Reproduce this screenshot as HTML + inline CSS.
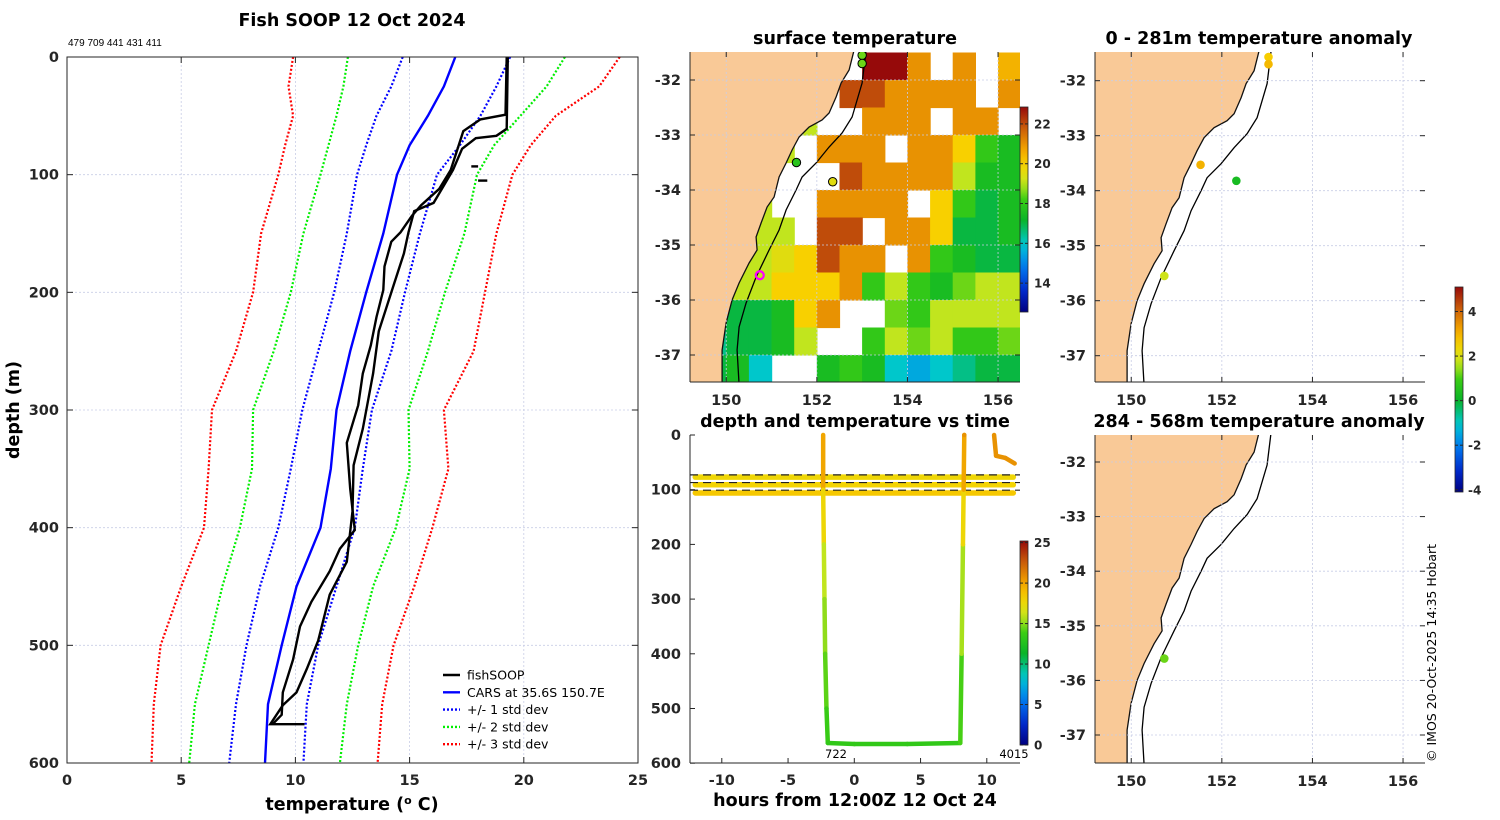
<!DOCTYPE html>
<html><head><meta charset="utf-8"><style>
body{margin:0;background:#fff;}
svg{display:block;font-family:"DejaVu Sans","Liberation Sans",sans-serif;}
.tk{font-size:14.5px;font-weight:bold;fill:#262626;}
.tt{font-size:17.5px;font-weight:bold;fill:#000;}
</style></head><body>
<svg id="fig" width="1500" height="820" viewBox="0 0 1500 820" xmlns="http://www.w3.org/2000/svg"></svg>
<script>
// ---- profile chart data ----
const depths = [0,25,50,75,100,150,200,250,300,350,400,450,500,550,600];
const carsMean = [17.0,16.5,15.8,15.0,14.45,13.85,13.1,12.4,11.8,11.55,11.1,10.05,9.4,8.8,8.67];
const sd1Lo = [14.7,14.2,13.55,13.1,12.7,12.25,11.7,11.0,10.3,9.8,9.25,8.45,7.86,7.4,7.1];
const sd1Hi = [19.4,18.8,18.1,17.2,16.2,15.45,14.8,14.2,13.35,12.95,12.6,11.8,11.0,10.5,10.35];
const sd2Lo = [12.3,12.1,11.8,11.45,11.1,10.35,9.8,9.05,8.15,8.1,7.57,6.8,6.2,5.6,5.35];
const sd2Hi = [21.8,21.0,19.85,18.7,17.95,17.4,16.55,15.8,14.95,15.0,14.4,13.4,12.75,12.25,11.95];
const sd3Lo = [9.9,9.7,9.9,9.55,9.25,8.5,8.15,7.4,6.35,6.2,6.0,5.0,4.1,3.8,3.7];
const sd3Hi = [24.2,23.3,21.4,20.3,19.5,18.8,18.3,17.8,16.5,16.7,16.0,15.2,14.3,13.8,13.6];
const castADepth = [0,49,53,63,78,96,112,126,135,149,157,178,198,221,245,269,296,328,367,402,418,437,463,484,512,540,559,567];
const castATemp = [19.25,19.2,18.1,17.35,17.1,16.8,16.3,15.5,15.1,14.6,14.2,13.9,13.85,13.55,13.3,12.95,12.75,12.25,12.4,12.6,11.95,11.5,10.7,10.2,9.9,9.45,9.4,9.0];
const castBDepth = [0,61,67,69,78,96,124,131,149,167,194,233,269,316,347,386,429,457,496,520,540,551,567,567];
const castBTemp = [19.3,19.25,18.8,17.9,17.3,16.9,16.05,15.2,14.95,14.75,14.3,13.65,13.4,12.95,12.55,12.5,12.25,11.5,11.0,10.5,10.05,9.45,8.9,10.4];
const xTicks = [0,5,10,15,20,25];
const yTicks = [0,100,200,300,400,500,600];
// ---- SST grid data (0.5 deg cells; rows from -31.5 south, cols from 149.0 east) ----
const N = null;
const sstGrid = [
 [19,19,19,19,19,19,19,N,23,23,21,N,21,N,20.5],
 [19,19,19,19,19,19,N,22,22,21,21,21,21,N,21],
 [19,19,19,19,19,19,N,N,21,21,21,N,21,21,N],
 [19,19,19,19,19,N,21,21,21,N,21,21,20,18,17.5],
 [19,19,19,19,N,N,N,22,21,21,21,21,19,17.5,17.5],
 [19,19,19,19,N,N,21,21,21,21,N,20,18,17,17.5],
 [19,19,19,19,19,N,22,22,N,21,21,20,17,17,17.5],
 [19,19,19,19,19.5,20,22,21,21,N,21,18,17.5,17,17],
 [19,19,19,19,20,20,20,21,18,19,18,17.5,18.5,19,19],
 [17,17,17,17,17.5,20,21,N,N,18.5,18,19,19,19,19],
 [16,16.5,17,17,17.5,19,N,N,18,19,18.5,19,18,18,18.5],
 [15,17,17.5,16,N,N,17.5,18,17.5,16,15.5,16,16.5,17,17]
];
// ---- anomaly dots ----
const anomLon1 = [153.03,153.03,151.53,152.32,150.73];
const anomLat1 = [-31.57,-31.70,-33.53,-33.82,-35.55];
const anomVal1 = [2.6,2.9,3.0,0.3,1.8];
const anomLon2 = [150.73];
const anomLat2 = [-35.6];
const anomVal2 = [1.2];
const sstDotLon = [153.0,153.0,151.55,152.35];
const sstDotLat = [-31.55,-31.7,-33.5,-33.85];
const sstDotVal = [18.5,18.5,17.8,19.5];
// ---- depth-time track ----
const trackT = [-2.35,-2.35,-2.3,-2.25,-2.2,-2.1,-2.0,0,4,8.0,8.1,8.2,8.25,8.3,8.3];
const trackD = [0,100,200,300,400,500,563,565,565,563,400,200,100,0,0];
const trackTemp = [20.5,19,16,15.3,14.6,13.8,13.2,13.2,13.2,13.2,14.6,16,19,20.5,20.5];
const tail2T = [10.55,10.7,11.4,12.1];
const tail2D = [0,38,42,52];
const bandDepths = [77,91,106];
const bandTemps = [17.6,17.8,18.4];
const dashDepths = [72,86,100];

const svg = document.getElementById('fig');
const NS = 'http://www.w3.org/2000/svg';
function el(tag, attrs, parent, text){
  const e = document.createElementNS(NS, tag);
  for (const k in attrs) e.setAttribute(k, attrs[k]);
  if (text !== undefined) e.textContent = text;
  (parent || svg).appendChild(e);
  return e;
}
function cmap(v, lo, hi){
  const stops = [[0,[0,0,128]],[0.1,[0,40,200]],[0.22,[0,120,240]],[0.33,[0,200,210]],[0.45,[10,180,40]],[0.55,[60,205,20]],[0.63,[200,230,30]],[0.72,[248,210,0]],[0.8,[240,160,0]],[0.9,[200,90,10]],[1,[150,10,10]]];
  let t = Math.max(0, Math.min(1, (v-lo)/(hi-lo)));
  for (let i=1;i<stops.length;i++){
    if (t<=stops[i][0]){
      const a=stops[i-1], b=stops[i], f=(t-a[0])/(b[0]-a[0]);
      const c=a[1].map((x,j)=>Math.round(x+(b[1][j]-x)*f));
      return 'rgb('+c.join(',')+')';
    }
  }
  return 'rgb(150,10,10)';
}

// ================= Profile panel =================
const PX0=67, PX1=638, PY0=57, PY1=763;
const xS = t => PX0 + t/25*(PX1-PX0);
const yS = d => PY0 + d/600*(PY1-PY0);
const prof = el('g', {}, svg);


xTicks.forEach(t=>{
  const l = el('line',{x1:xS(t),x2:xS(t),y1:PY0,y2:PY1,stroke:'#c8cde6','stroke-width':0.8,'stroke-dasharray':'2,2'},prof);
  
  
  const tx = el('text',{x:xS(t),y:PY1+22,'text-anchor':'middle',class:'tk'},prof,String(t));
  
  
});
yTicks.forEach(d=>{
  const l = el('line',{x1:PX0,x2:PX1,y1:yS(d),y2:yS(d),stroke:'#c8cde6','stroke-width':0.8,'stroke-dasharray':'2,2'},prof);
  
  
  el('line',{x1:PX0,x2:PX0+6,y1:yS(d),y2:yS(d),stroke:'#262626'},prof);
  el('line',{x1:PX1,x2:PX1-6,y1:yS(d),y2:yS(d),stroke:'#262626'},prof);
  const tx = el('text',{x:PX0-8,y:yS(d)+5,'text-anchor':'end',class:'tk'},prof,String(d));
  
  
});
function lineOf(ts, ds, attrs, name){
  const p = ts.map((t,i)=>(i?'L':'M')+xS(t).toFixed(1)+','+yS(ds[i]).toFixed(1)).join('');
  const e = el('path', Object.assign({d:p,fill:'none'},attrs), prof);
  
  
}
const dotted = {'stroke-width':2.2,'stroke-dasharray':'2,2'};
lineOf(sd3Lo, depths, Object.assign({stroke:'#ff0000'},dotted), 'sd3-lower-line');
lineOf(sd3Hi, depths, Object.assign({stroke:'#ff0000'},dotted), 'sd3-upper-line');
lineOf(sd2Lo, depths, Object.assign({stroke:'#00ee00'},dotted), 'sd2-lower-line');
lineOf(sd2Hi, depths, Object.assign({stroke:'#00ee00'},dotted), 'sd2-upper-line');
lineOf(sd1Lo, depths, Object.assign({stroke:'#0000ff'},dotted), 'sd1-lower-line');
lineOf(sd1Hi, depths, Object.assign({stroke:'#0000ff'},dotted), 'sd1-upper-line');
lineOf(carsMean, depths, {stroke:'#0000ff','stroke-width':2.4}, 'cars-mean-line');
lineOf(castATemp, castADepth, {stroke:'#000','stroke-width':2.4}, 'fishsoop-cast-a');
lineOf(castBTemp, castBDepth, {stroke:'#000','stroke-width':2.4}, 'fishsoop-cast-b');
lineOf([17.7,18.0], [93,93], {stroke:'#000','stroke-width':2.4}, 'fishsoop-fragment-1');
lineOf([18.0,18.4], [105,105], {stroke:'#000','stroke-width':2.4}, 'fishsoop-fragment-2');
el('rect',{x:PX0,y:PY0,width:PX1-PX0,height:PY1-PY0,fill:'none',stroke:'#262626','stroke-width':1},prof);
xTicks.forEach(t=>{
  el('line',{x1:xS(t),x2:xS(t),y1:PY1,y2:PY1-6,stroke:'#262626'},prof);
  el('line',{x1:xS(t),x2:xS(t),y1:PY0,y2:PY0+6,stroke:'#262626'},prof);
});
</script>
<script>
// legend + titles for profile
(function(){
  const lg = el('g',{},svg);
  
  
  const items = [['fishSOOP','#000',''],['CARS at 35.6S 150.7E','#0000ff',''],['+/- 1 std dev','#0000ff','2,2'],['+/- 2 std dev','#00ee00','2,2'],['+/- 3 std dev','#ff0000','2,2']];
  items.forEach((it,i)=>{
    const y = 675 + i*17.3;
    const a = {x1:443,x2:460,y1:y,y2:y,stroke:it[1],'stroke-width':2.4};
    if (it[2]) a['stroke-dasharray']=it[2];
    el('line',a,lg);
    const t = el('text',{x:467,y:y+4.5,'font-size':'12.5px',fill:'#000'},lg,it[0]);
    
    
  });
  const t1 = el('text',{x:352,y:26,'text-anchor':'middle',class:'tt'},svg,'Fish SOOP 12 Oct 2024');
   
  const t2 = el('text',{x:68,y:46,'font-size':'10px','font-family':'"Liberation Sans",sans-serif'},svg,'479 709 441 431 411');
   
  const t3 = el('text',{x:352,y:810,'text-anchor':'middle',class:'tt'},svg,'');
   
  t3.innerHTML = 'temperature (<tspan dy="-6" font-size="11px">o</tspan><tspan dy="6"> C)</tspan>';
  const t4 = el('text',{x:19,y:410,'text-anchor':'middle',class:'tt',transform:'rotate(-90 19 410)'},svg,'depth (m)');
   
})();

// ================= Map panels =================
const coastPx = [[855,50],[850,70],[842,83],[837,97],[830,113],[823,120],[810,127],[800,137],[793,150],[787,163],[780,177],[775,197],[768,207],[762,223],[757,237],[758,250],[750,263],[740,283],[733,300],[727,323],[723,350],[723,385]];
const isoPx = [[867,50],[863,83],[853,117],[843,133],[830,147],[817,163],[803,177],[797,190],[787,210],[780,230],[770,250],[757,277],[747,303],[740,327],[738,350],[740,385]];
const toLL = p => [149.18+(p[0]-690)/45.3, -32-(p[1]-80)/55];
const coastLL = coastPx.map(toLL), isoLL = isoPx.map(toLL);

function mapPanel(x0,y0,x1,y1,latRef,yRef,pxLat,name,clipId){
  const g = el('g',{},svg);
  
  
  const lonS = lo => x0 + (lo-149.2)*45.3;
  const latS = la => yRef + (latRef-la)*pxLat;
  const cp = el('clipPath',{id:clipId},g);
  el('rect',{x:x0,y:y0,width:x1-x0,height:y1-y0},cp);
  const inner = el('g',{'clip-path':'url(#'+clipId+')'},g);
  return {g, inner, lonS, latS, x0,y0,x1,y1};
}
function drawLand(m){
  let s='M'+(m.x0-5)+','+(m.y0-40)+'L'+m.lonS(coastLL[0][0]+0.1).toFixed(1)+','+(m.y0-40);
  coastLL.forEach(p=>{ s += 'L'+m.lonS(p[0]).toFixed(1)+','+m.latS(p[1]).toFixed(1); });
  s += 'L'+m.lonS(coastLL[coastLL.length-1][0]).toFixed(1)+','+(m.y1+40)+'L'+(m.x0-5)+','+(m.y1+40)+'Z';
  const land = el('path',{d:s,fill:'#f9c997'},m.inner);
  
  
  const cl = el('path',{d:coastLL.map((p,i)=>(i?'L':'M')+m.lonS(p[0]).toFixed(1)+','+m.latS(p[1]).toFixed(1)).join(''),fill:'none',stroke:'#111','stroke-width':1.3},m.inner);
  
  
  const iso = el('path',{d:isoLL.map((p,i)=>(i?'L':'M')+m.lonS(p[0]).toFixed(1)+','+m.latS(p[1]).toFixed(1)).join(''),fill:'none',stroke:'#000','stroke-width':1.3},m.inner);
  
  
}
function drawGridAxes(m, lats, showLon){
  [150,152,154,156].forEach(lo=>{
    el('line',{x1:m.lonS(lo),x2:m.lonS(lo),y1:m.y0,y2:m.y1,stroke:'#c8cde6','stroke-width':0.8,'stroke-dasharray':'2,2'},m.inner);
    el('line',{x1:m.lonS(lo),x2:m.lonS(lo),y1:m.y1,y2:m.y1-5,stroke:'#262626'},m.g);
    el('line',{x1:m.lonS(lo),x2:m.lonS(lo),y1:m.y0,y2:m.y0+5,stroke:'#262626'},m.g);
    if (showLon){
      const t = el('text',{x:m.lonS(lo),y:m.y1+23,'text-anchor':'middle',class:'tk'},m.g,String(lo));
       
    }
  });
  lats.forEach(la=>{
    el('line',{x1:m.x0,x2:m.x1,y1:m.latS(la),y2:m.latS(la),stroke:'#c8cde6','stroke-width':0.8,'stroke-dasharray':'2,2'},m.inner);
    el('line',{x1:m.x0,x2:m.x0+5,y1:m.latS(la),y2:m.latS(la),stroke:'#262626'},m.g);
    el('line',{x1:m.x1,x2:m.x1-5,y1:m.latS(la),y2:m.latS(la),stroke:'#262626'},m.g);
    const t = el('text',{x:m.x0-9,y:m.latS(la)+5,'text-anchor':'end',class:'tk'},m.g,String(la));
     
  });
  el('line',{x1:m.x0,x2:m.x0,y1:m.y0,y2:m.y1,stroke:'#262626'},m.g);
  el('line',{x1:m.x0,x2:m.x1,y1:m.y1,y2:m.y1,stroke:'#262626'},m.g);
}
const lats = [-32,-33,-34,-35,-36,-37];

// SST panel
const sst = mapPanel(690,52,1020,382,-32,80,55,'surface-temperature-map','clipSST');
sstGrid.forEach((row,j)=>row.forEach((v,i)=>{
  if (v===null) return;
  const lo = 149.0 + i*0.5, la = -31.5 - j*0.5;
  const c = el('rect',{x:sst.lonS(lo).toFixed(1),y:sst.latS(la).toFixed(1),width:(0.5*45.3+0.6).toFixed(1),height:(0.5*55+0.6).toFixed(1),fill:cmap(v,12.55,22.85)},sst.inner);
  
  
}));
drawLand(sst);
drawGridAxes(sst, lats, true);
sstDotLon.forEach((lo,i)=>{
  const c = el('circle',{cx:sst.lonS(lo),cy:sst.latS(sstDotLat[i]),r:4.2,fill:cmap(sstDotVal[i],12.55,22.85),stroke:'#000','stroke-width':1},sst.inner);
   
});
(function(){const c = el('circle',{cx:sst.lonS(150.74),cy:sst.latS(-35.55),r:4,fill:'none',stroke:'#ff00ff','stroke-width':2.2},sst.inner);
 })();
(function(){const t = el('text',{x:855,y:44,'text-anchor':'middle',class:'tt'},svg,'surface temperature');
 })();

// colorbar helper
function colorbar(x,y0,y1,lo,hi,ticks,labX,name,id){
  const g = el('g',{},svg);
  
  
  const gr = el('linearGradient',{id:id,x1:0,y1:1,x2:0,y2:0},g);
  for (let k=0;k<=20;k++){ el('stop',{offset:k/20,'stop-color':cmap(lo+(hi-lo)*k/20,lo,hi)},gr); }
  el('rect',{x:x,y:y0,width:8,height:y1-y0,fill:'url(#'+id+')',stroke:'#262626','stroke-width':0.8},g);
  ticks.forEach(t=>{
    const yy = y1 - (t-lo)/(hi-lo)*(y1-y0);
    el('line',{x1:x,x2:x+3,y1:yy,y2:yy,stroke:'#262626'},g);
    el('line',{x1:x+8,x2:x+5,y1:yy,y2:yy,stroke:'#262626'},g);
    const tx = el('text',{x:labX,y:yy+4.5,'font-size':'12px','font-weight':'bold',fill:'#262626'},g,String(t));
     
  });
}
colorbar(1020,107,312,12.55,22.85,[14,16,18,20,22],1034,'sst-colorbar','gSST');

// anomaly panels
const a1 = mapPanel(1095,52,1425,382,-32,80.7,55,'anomaly-0-281m-map','clipA1');
drawLand(a1);
drawGridAxes(a1, lats, true);
anomLon1.forEach((lo,i)=>{
  const c = el('circle',{cx:a1.lonS(lo),cy:a1.latS(anomLat1[i]),r:4.3,fill:cmap(anomVal1[i],-4.1,5.1)},a1.inner);
   
});
(function(){const t = el('text',{x:1259,y:44,'text-anchor':'middle',class:'tt'},svg,'0 - 281m temperature anomaly');
 })();

const a2 = mapPanel(1095,435,1425,763,-32,462,54.6,'anomaly-284-568m-map','clipA2');
drawLand(a2);
drawGridAxes(a2, lats, true);
anomLon2.forEach((lo,i)=>{
  const c = el('circle',{cx:a2.lonS(lo),cy:a2.latS(anomLat2[i]),r:4.3,fill:cmap(anomVal2[i],-4.1,5.1)},a2.inner);
   
});
(function(){const t = el('text',{x:1259,y:427,'text-anchor':'middle',class:'tt'},svg,'284 - 568m temperature anomaly');
 })();
colorbar(1455,287,492,-4.1,5.1,[-4,-2,0,2,4],1468,'anomaly-colorbar','gAN');

// ================= depth vs time =================
(function(){
  const X0=690,X1=1020,Y0=435,Y1=763;
  const tS = t => X0 + (t+12.4)*13.25;
  const dS = d => Y0 + d*0.547;
  const g = el('g',{},svg);
  
  
  [-10,-5,0,5,10].forEach(t=>{
    el('line',{x1:tS(t),x2:tS(t),y1:Y1,y2:Y1-5,stroke:'#262626'},g);
    const tx = el('text',{x:tS(t),y:Y1+22,'text-anchor':'middle',class:'tk'},g,String(t));
     
  });
  [0,100,200,300,400,500,600].forEach(d=>{
    el('line',{x1:X0,x2:X0+5,y1:dS(d),y2:dS(d),stroke:'#262626'},g);
    const tx = el('text',{x:X0-9,y:dS(d)+5,'text-anchor':'end',class:'tk'},g,String(d));
     
  });
  bandDepths.forEach((d,i)=>{
    const b = el('line',{x1:tS(-12.0),x2:tS(12.0),y1:dS(d),y2:dS(d),stroke:cmap(bandTemps[i],0,25),'stroke-width':5.5,'stroke-linecap':'round'},g);
     
  });
  dashDepths.forEach(d=>{
    const l = el('line',{x1:X0,x2:X1,y1:dS(d)+0.5,y2:dS(d)+0.5,stroke:'#222','stroke-width':1.2,'stroke-dasharray':'8,5'},g);
     
  });
  function track(ts,ds,temps,name){
    for (let i=1;i<ts.length;i++){
      const s = el('line',{x1:tS(ts[i-1]),y1:dS(ds[i-1]),x2:tS(ts[i]),y2:dS(ds[i]),stroke:cmap((temps[i]+temps[i-1])/2,0,25),'stroke-width':4.5,'stroke-linecap':'round'},g);
       
    }
  }
  track(trackT,trackD,trackTemp,'tow-track-segment');
  track(tail2T,tail2D,[20.5,20.5,20.5,20.5],'tow-track-tail');
  el('line',{x1:X0,x2:X0,y1:Y0,y2:Y1,stroke:'#262626'},g);
  el('line',{x1:X0,x2:X1,y1:Y1,y2:Y1,stroke:'#262626'},g);
  const l1 = el('text',{x:836,y:758,'text-anchor':'middle','font-size':'11.5px',fill:'#000'},g,'722');
   
  const l2 = el('text',{x:1014,y:758,'text-anchor':'middle','font-size':'11.5px',fill:'#000'},g,'4015');
   
  const tt = el('text',{x:855,y:427,'text-anchor':'middle',class:'tt'},svg,'depth and temperature vs time');
   
  const xt = el('text',{x:855,y:806,'text-anchor':'middle',class:'tt'},svg,'hours from 12:00Z 12 Oct 24');
   
})();
colorbar(1020,541,745,0,25.2,[0,5,10,15,20,25],1034,'time-temp-colorbar','gTT');

(function(){const t = el('text',{x:1436,y:762,'font-size':'12.5px',fill:'#000',transform:'rotate(-90 1436 762)'},svg,'© IMOS 20-Oct-2025 14:35 Hobart');
 })();
</script>
</body></html>
